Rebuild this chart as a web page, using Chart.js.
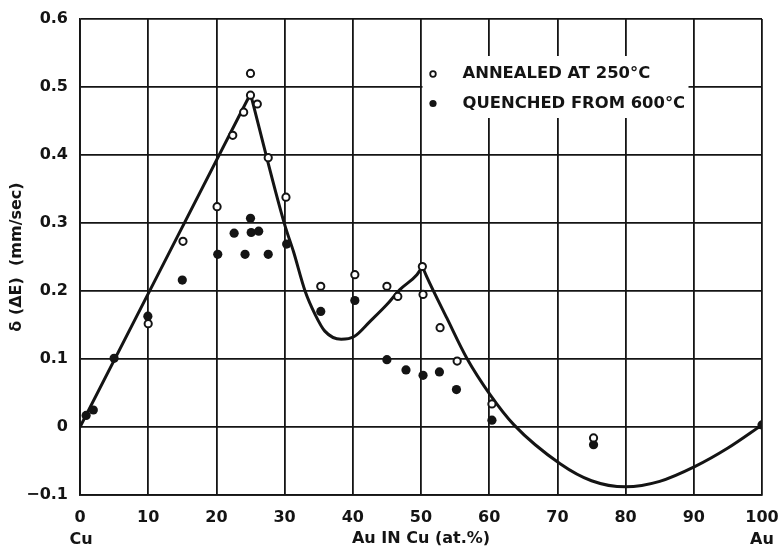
<!DOCTYPE html>
<html lang="en">
<head>
<meta charset="UTF-8">
<title>Au in Cu shift</title>
<script src="https://cdn.jsdelivr.net/npm/chart.js@4.4.1/dist/chart.umd.min.js"></script>
<style>
  body { margin: 0; background: #fff; }
  #wrap { width: 781px; height: 548px; }
</style>
</head>
<body>
<div id="wrap"><canvas id="shiftChart"></canvas></div>
<script>
// open circles: annealed at 250 C
const annealedX = [10, 15.1, 20.1, 22.4, 24.0, 25, 25, 26, 27.6, 30.2, 35.3, 40.3, 45, 46.6, 50.2, 50.3, 52.8, 55.3, 60.4, 75.3];
const annealedY = [0.152, 0.273, 0.324, 0.429, 0.463, 0.488, 0.52, 0.475, 0.396, 0.338, 0.207, 0.224, 0.207, 0.192, 0.236, 0.195, 0.146, 0.097, 0.034, -0.016];

// filled circles: quenched from 600 C
const quenchedX = [0.9, 1.95, 5.0, 9.95, 15.0, 20.2, 22.6, 24.2, 25.0, 25.1, 26.2, 27.6, 30.3, 35.3, 40.3, 45, 47.8, 50.3, 52.7, 55.2, 60.4, 75.3, 100];
const quenchedY = [0.017, 0.025, 0.101, 0.163, 0.216, 0.254, 0.285, 0.254, 0.307, 0.286, 0.288, 0.254, 0.269, 0.17, 0.186, 0.099, 0.084, 0.076, 0.081, 0.055, 0.010, -0.026, 0.003];

// drawn curve, three pieces (sharp corners at 25 and 50)
const riseX = [0, 25];
const riseY = [0, 0.49];
const dipX = [25, 30, 31.3, 33, 34.5, 35.9, 38.3, 40.2, 42.5, 45, 46.9, 49.4, 50.2];
const dipY = [0.49, 0.298, 0.258, 0.2, 0.165, 0.141, 0.129, 0.133, 0.155, 0.18, 0.202, 0.224, 0.236];
const tailX = [50.2, 50.8, 53.8, 56.7, 60.1, 63.6, 70.4, 75, 80, 85, 90.2, 95, 100];
const tailY = [0.236, 0.222, 0.16, 0.1015, 0.048, 0.0035, -0.054, -0.079, -0.088, -0.08, -0.058, -0.031, 0.003];

const legendLabels = ['ANNEALED AT 250°C', 'QUENCHED FROM 600°C'];
const endLabels = ['Cu', 'Au'];

function pts(xs, ys) {
    return xs.map((x, i) => ({ x: x, y: ys[i] }));
}

const ink = '#141414';
Chart.defaults.font.family = 'DejaVu Sans';
Chart.defaults.font.weight = 'bold';
Chart.defaults.color = ink;

const curveStyle = {
    type: 'line',
    showLine: true,
    borderColor: ink,
    borderWidth: 3,
    pointRadius: 0,
    fill: false,
    cubicInterpolationMode: 'monotone',
    order: 2
};

// legend inside the plot plus the Cu / Au end labels
const extras = {
    id: 'extras',
    afterDatasetsDraw(chart) {
        const ctx = chart.ctx;
        const xs = chart.scales.x;
        const area = chart.chartArea;
        ctx.save();
        const bx = xs.getPixelForValue(50) + 1.5;
        const by = area.top + 37;
        ctx.fillStyle = '#fff';
        ctx.fillRect(bx, by, 266, 62);

        const mx = bx + 10.5, tx = bx + 40;
        const rows = [by + 18, by + 47.5];
        ctx.font = 'bold 16.4px "DejaVu Sans"';
        ctx.textBaseline = 'middle';
        ctx.textAlign = 'left';
        // open marker
        ctx.beginPath();
        ctx.arc(mx, rows[0], 2.8, 0, Math.PI * 2);
        ctx.lineWidth = 1.8;
        ctx.strokeStyle = ink;
        ctx.fillStyle = '#fff';
        ctx.fill();
        ctx.stroke();
        // filled marker
        ctx.beginPath();
        ctx.arc(mx, rows[1], 3.6, 0, Math.PI * 2);
        ctx.fillStyle = ink;
        ctx.fill();
        ctx.fillText(legendLabels[0], tx, rows[0]);
        ctx.fillText(legendLabels[1], tx, rows[1]);

        ctx.font = 'bold 16px "DejaVu Sans"';
        ctx.textAlign = 'center';
        ctx.fillText(endLabels[0], xs.getPixelForValue(0) + 1, 540);
        ctx.fillText(endLabels[1], xs.getPixelForValue(100), 540);
        ctx.restore();
    }
};

const ctx = document.getElementById('shiftChart').getContext('2d');
new Chart(ctx, {
    type: 'scatter',
    data: {
        datasets: [
            {
                label: legendLabels[0],
                data: pts(annealedX, annealedY),
                pointRadius: 3.6,
                pointBorderWidth: 2,
                pointBackgroundColor: '#fff',
                pointBorderColor: ink,
                order: 0
            },
            {
                label: legendLabels[1],
                data: pts(quenchedX, quenchedY),
                pointRadius: 4.6,
                pointBorderWidth: 0,
                pointBackgroundColor: ink,
                pointBorderColor: ink,
                order: 1
            },
            Object.assign({ label: 'rise', data: pts(riseX, riseY) }, curveStyle),
            Object.assign({ label: 'dip', data: pts(dipX, dipY) }, curveStyle),
            Object.assign({ label: 'tail', data: pts(tailX, tailY) }, curveStyle)
        ]
    },
    options: {
        responsive: true,
        maintainAspectRatio: false,
        animation: false,
        layout: { padding: { top: 19, right: 19, bottom: 0, left: 0 } },
        plugins: {
            legend: { display: false },
            tooltip: { enabled: false }
        },
        scales: {
            x: {
                type: 'linear',
                min: 0,
                max: 100,
                border: { color: ink, width: 1.8 },
                grid: { color: ink, lineWidth: 1.8, drawTicks: false },
                ticks: { stepSize: 10, padding: 13, font: { size: 16 } },
                title: {
                    display: true,
                    text: 'Au IN Cu (at.%)',
                    font: { size: 16 },
                    padding: { top: 0, bottom: 0 }
                },
                afterFit(s) { s.height = 53; s.paddingLeft = 0; s.paddingRight = 0; }
            },
            y: {
                min: -0.1,
                max: 0.6,
                border: { color: ink, width: 1.8 },
                grid: { color: ink, lineWidth: 1.8, drawTicks: false },
                ticks: {
                    stepSize: 0.1,
                    padding: 12,
                    font: { size: 16 },
                    callback: (v) => {
                        const r = Math.round(v * 10) / 10;
                        if (r === 0) return '0';
                        return r.toFixed(1).replace('-', '−');
                    }
                },
                title: {
                    display: true,
                    text: 'δ (ΔE)  (mm/sec)',
                    font: { size: 16 },
                    padding: { top: 7, bottom: 0 }
                },
                afterFit(s) { s.width = 80; s.paddingTop = 0; s.paddingBottom = 0; }
            }
        }
    },
    plugins: [extras]
});
</script>
</body>
</html>
